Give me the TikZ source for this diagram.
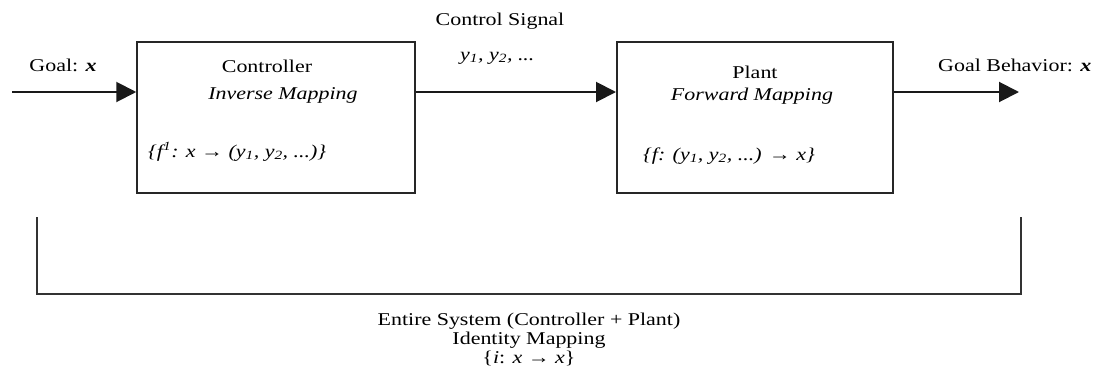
\documentclass[tikz,border=0pt]{standalone}
\usepackage{fontspec}
\setmainfont{Liberation Serif}[FakeStretch=1.22]
\usetikzlibrary{arrows.meta}
\begin{document}
\begin{tikzpicture}[x=1pt,y=-1pt,
  lbl/.style={anchor=base, inner sep=0pt, font=\fontsize{18}{21}\selectfont},
  lbll/.style={lbl, anchor=base west},
  blk/.style={draw=black!85, line width=2pt, minimum width=278pt, minimum height=151pt, inner sep=0pt},
  conn/.style={draw=black!90, line width=2pt, -{Triangle[length=20pt,width=20pt]}},
  brk/.style={line width=1.8pt, draw=black!80}]
\useasboundingbox (0,0) rectangle (1096,383);
% boxes
\node[blk] (ctrl) at (276.25,117.5) {};
\node[blk, minimum width=276pt] (plant) at (755,117.5) {};
% connectors
\coordinate (in) at (12,92);
\coordinate (out) at (1019,92);
\draw[conn] (in) -- (ctrl.west |- in);
\draw[conn] (ctrl.east |- in) -- (plant.west |- in);
\draw[conn] (plant.east |- in) -- (out);
% bracket
\coordinate (b1) at (37,217);
\coordinate (b2) at (37,294);
\coordinate (b3) at (1021,294);
\coordinate (b4) at (1021,217);
\draw[brk] (b1) -- (b2) -- (b3) -- (b4);
% labels
\node[lbl] (goal) at (63,71) {Goal: \textbf{\textit{x}}};
\node[lbl] (ctitle) at (267,72) {Controller};
\node[lbl] (cmap) at (283,99) {\textit{Inverse Mapping}};
\node[lbll] (cform) at (148,157) {\textit{\{f\textsuperscript{1}: x → (y\textsubscript{1}, y\textsubscript{2}, ...)\}}};
\node[lbl] (sig) at (500,25) {Control Signal};
\node[lbll] (sigy) at (460,60) {\textit{y\textsubscript{1}, y\textsubscript{2}, ...}};
\node[lbl] (ptitle) at (755,78) {Plant};
\node[lbl] (pmap) at (752,100) {\textit{Forward Mapping}};
\node[lbll] (pform) at (643,160) {\textit{\{f: (y\textsubscript{1}, y\textsubscript{2}, ...) → x\}}};
\node[lbll] (gb) at (938,71) {Goal Behavior: \textbf{\textit{x}}};
\node[lbl] (sys1) at (529,325) {Entire System (Controller + Plant)};
\node[lbl] (sys2) at (529,344) {Identity Mapping};
\node[lbl] (sys3) at (529,363) {\{\textit{i}: \textit{x} → \textit{x}\}};
\end{tikzpicture}
\end{document}
